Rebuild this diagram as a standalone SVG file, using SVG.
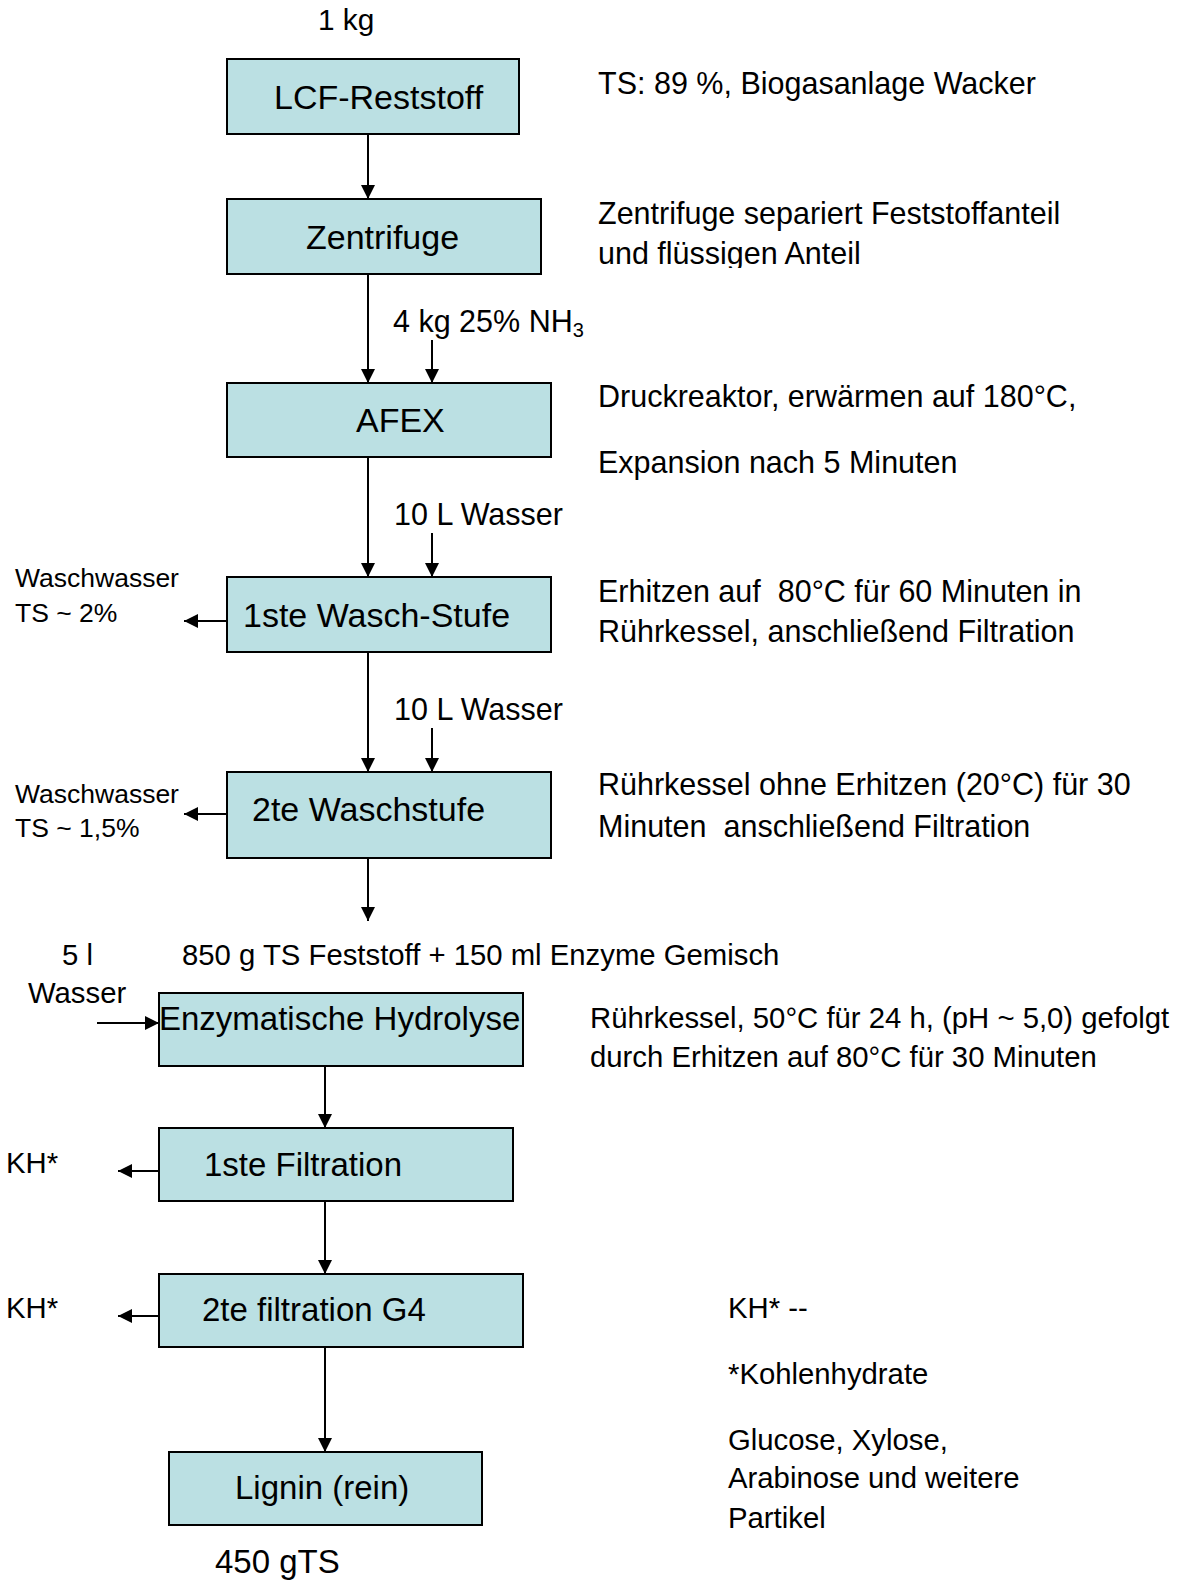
<svg xmlns="http://www.w3.org/2000/svg" width="1179" height="1580" viewBox="0 0 1179 1580">
<style>
text{font-family:"Liberation Sans",Arial,sans-serif;fill:#000;white-space:pre}
.box{fill:#BBE0E3;stroke:#000;stroke-width:2}
.lb{font-size:34px}
.lb2{font-size:33px}
.note{font-size:30.5px}
.note2{font-size:29.3px}
.sm{font-size:26.5px}
.con line{stroke:#000;stroke-width:2;marker-end:url(#ah)}
</style>
<defs>
<marker id="ah" markerUnits="userSpaceOnUse" markerWidth="14" markerHeight="14" refX="14" refY="7" orient="auto">
<path d="M0,0 L14,7 L0,14 z" fill="#000"/>
</marker>
<clipPath id="clipFl"><rect x="590" y="230" width="400" height="38"/></clipPath>
</defs>
<rect width="1179" height="1580" fill="#fff"/>

<g id="n-lcf"><rect class="box" x="227" y="59" width="292" height="75"/><text class="lb" x="274" y="109">LCF-Reststoff</text></g>
<g id="n-zentrifuge"><rect class="box" x="227" y="199" width="314" height="75"/><text class="lb" x="306" y="249">Zentrifuge</text></g>
<g id="n-afex"><rect class="box" x="227" y="383" width="324" height="74"/><text class="lb" x="356" y="432">AFEX</text></g>
<g id="n-wasch1"><rect class="box" x="227" y="577" width="324" height="75"/><text class="lb" x="243" y="627">1ste Wasch-Stufe</text></g>
<g id="n-wasch2"><rect class="box" x="227" y="772" width="324" height="86"/><text class="lb" x="252" y="821">2te Waschstufe</text></g>
<g id="n-hydrolyse"><rect class="box" x="159" y="993" width="364" height="73"/><text class="lb2" x="159" y="1030">Enzymatische Hydrolyse</text></g>
<g id="n-filt1"><rect class="box" x="159" y="1128" width="354" height="73"/><text class="lb2" x="204" y="1176">1ste Filtration</text></g>
<g id="n-filt2"><rect class="box" x="159" y="1274" width="364" height="73"/><text class="lb2" x="202" y="1321">2te filtration G4</text></g>
<g id="n-lignin"><rect class="box" x="169" y="1452" width="313" height="73"/><text class="lb2" x="235" y="1499">Lignin (rein)</text></g>

<g id="connectors" class="con">
<line x1="368" y1="134" x2="368" y2="199"/>
<line x1="368" y1="274" x2="368" y2="383"/>
<line x1="432" y1="340" x2="432" y2="383"/>
<line x1="368" y1="457" x2="368" y2="577"/>
<line x1="432" y1="533" x2="432" y2="577"/>
<line x1="368" y1="652" x2="368" y2="772"/>
<line x1="432" y1="728" x2="432" y2="772"/>
<line x1="368" y1="858" x2="368" y2="921"/>
<line x1="227" y1="621" x2="184" y2="621"/>
<line x1="227" y1="814" x2="184" y2="814"/>
<line x1="97" y1="1023" x2="159" y2="1023"/>
<line x1="325" y1="1066" x2="325" y2="1128"/>
<line x1="325" y1="1201" x2="325" y2="1274"/>
<line x1="325" y1="1347" x2="325" y2="1452"/>
<line x1="159" y1="1171" x2="118" y2="1171"/>
<line x1="159" y1="1316" x2="118" y2="1316"/>
</g>

<g id="labels">
<text x="318" y="30" style="font-size:29.8px">1 kg</text>
<text class="note" x="393" y="332">4 kg 25% NH<tspan font-size="20" dy="5">3</tspan></text>
<text class="note" x="394" y="525">10 L Wasser</text>
<text class="note" x="394" y="720">10 L Wasser</text>
<text class="sm" x="15" y="587">Waschwasser</text>
<text class="sm" x="15" y="622">TS ~ 2%</text>
<text class="sm" x="15" y="803">Waschwasser</text>
<text class="sm" x="15" y="837">TS ~ 1,5%</text>
<text class="note2" x="62" y="965">5 l</text>
<text class="note2" x="28" y="1003">Wasser</text>
<text class="note2" x="182" y="965">850 g TS Feststoff + 150 ml Enzyme Gemisch</text>
<text class="note2" x="6" y="1173">KH*</text>
<text class="note2" x="6" y="1318">KH*</text>
<text class="lb2" x="215" y="1573">450 gTS</text>
</g>

<g id="notes">
<text class="note" x="598" y="94">TS: 89 %, Biogasanlage Wacker</text>
<text class="note" x="598" y="224">Zentrifuge separiert Feststoffanteil</text>
<text class="note" x="598" y="264" clip-path="url(#clipFl)">und flüssigen Anteil</text>
<text class="note" x="598" y="407">Druckreaktor, erwärmen auf 180°C,</text>
<text class="note" x="598" y="473">Expansion nach 5 Minuten</text>
<text class="note" x="598" y="602">Erhitzen auf  80°C für 60 Minuten in</text>
<text class="note" x="598" y="642">Rührkessel, anschließend Filtration</text>
<text class="note" x="598" y="795">Rührkessel ohne Erhitzen (20°C) für 30</text>
<text class="note" x="598" y="837">Minuten  anschließend Filtration</text>
<text class="note2" x="590" y="1028">Rührkessel, 50°C für 24 h, (pH ~ 5,0) gefolgt</text>
<text class="note2" x="590" y="1067">durch Erhitzen auf 80°C für 30 Minuten</text>
<text class="note2" x="728" y="1318">KH* --</text>
<text class="note2" x="728" y="1384">*Kohlenhydrate</text>
<text class="note2" x="728" y="1450">Glucose, Xylose,</text>
<text class="note2" x="728" y="1488">Arabinose und weitere</text>
<text class="note2" x="728" y="1528">Partikel</text>
</g>
</svg>
